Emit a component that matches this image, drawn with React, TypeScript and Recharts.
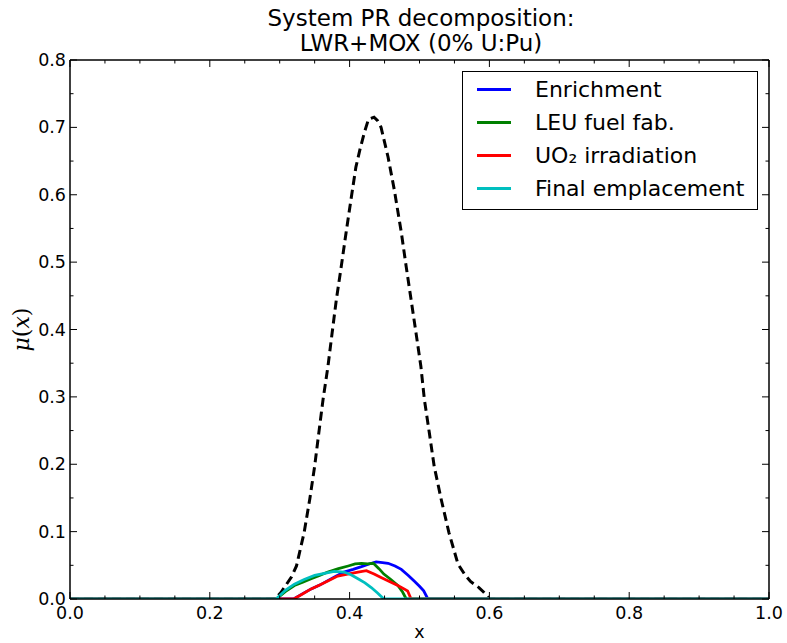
import { Legend, Line, LineChart, XAxis, YAxis } from "recharts";

// total (dashed black)
const totalX = [0, 0.293, 0.302, 0.317, 0.324, 0.335, 0.343, 0.35, 0.356, 0.362, 0.369, 0.375, 0.381, 0.388, 0.395, 0.402, 0.409, 0.415, 0.421, 0.427, 0.435, 0.44, 0.445, 0.455, 0.464, 0.474, 0.481, 0.488, 0.495, 0.502, 0.507, 0.514, 0.521, 0.531, 0.542, 0.555, 0.565, 0.573, 0.585, 0.592, 0.6, 1];
const totalY = [0, 0, 0.01, 0.033, 0.049, 0.099, 0.148, 0.197, 0.247, 0.296, 0.345, 0.395, 0.444, 0.493, 0.544, 0.593, 0.641, 0.668, 0.692, 0.712, 0.715, 0.71, 0.7, 0.656, 0.607, 0.544, 0.493, 0.444, 0.395, 0.345, 0.296, 0.247, 0.197, 0.148, 0.099, 0.052, 0.036, 0.026, 0.017, 0.01, 0, 0];

const enrichX = [0, 0.32, 0.333, 0.345, 0.358, 0.37, 0.381, 0.392, 0.405, 0.417, 0.428, 0.438, 0.447, 0.455, 0.465, 0.474, 0.484, 0.492, 0.5, 0.506, 0.512, 1];
const enrichY = [0, 0, 0.008, 0.015, 0.021, 0.028, 0.034, 0.04, 0.044, 0.048, 0.052, 0.055, 0.054, 0.053, 0.049, 0.044, 0.035, 0.027, 0.019, 0.012, 0, 0];

const leuX = [0, 0.295, 0.308, 0.321, 0.333, 0.345, 0.357, 0.369, 0.384, 0.398, 0.408, 0.417, 0.426, 0.434, 0.442, 0.449, 0.459, 0.469, 0.476, 0.481, 1];
const leuY = [0, 0, 0.011, 0.02, 0.025, 0.03, 0.035, 0.04, 0.045, 0.049, 0.052, 0.053, 0.052, 0.053, 0.045, 0.037, 0.029, 0.02, 0.01, 0, 0];

const uo2X = [0, 0.32, 0.332, 0.345, 0.358, 0.371, 0.383, 0.397, 0.412, 0.424, 0.435, 0.445, 0.457, 0.469, 0.478, 0.483, 0.488, 1];
const uo2Y = [0, 0, 0.007, 0.015, 0.021, 0.028, 0.034, 0.037, 0.04, 0.042, 0.037, 0.032, 0.026, 0.02, 0.015, 0.012, 0, 0];

const finalX = [0, 0.295, 0.308, 0.321, 0.335, 0.35, 0.364, 0.378, 0.392, 0.402, 0.412, 0.422, 0.431, 0.44, 0.449, 1];
const finalY = [0, 0, 0.013, 0.022, 0.029, 0.035, 0.038, 0.041, 0.04, 0.036, 0.03, 0.024, 0.017, 0.009, 0, 0];

const names = ["Enrichment", "LEU fuel fab.", "UO₂ irradiation", "Final emplacement"];
const colors = ["#0000ff", "#008000", "#ff0000", "#00bfbf"];

const xTicks = [0, 0.05, 0.1, 0.15, 0.2, 0.25, 0.3, 0.35, 0.4, 0.45, 0.5, 0.55, 0.6, 0.65, 0.7, 0.75, 0.8, 0.85, 0.9, 0.95, 1];
const yTicks = [0, 0.05, 0.1, 0.15, 0.2, 0.25, 0.3, 0.35, 0.4, 0.45, 0.5, 0.55, 0.6, 0.65, 0.7, 0.75, 0.8];

const zip = (xs: number[], ys: number[]) => xs.map((x, i) => ({ x, y: ys[i] }));
const series = [
  zip(enrichX, enrichY),
  zip(leuX, leuY),
  zip(uo2X, uo2Y),
  zip(finalX, finalY),
];
const total = zip(totalX, totalY);

const font = "DejaVu Sans, Liberation Sans, sans-serif";
const isMult = (v: number, step: number) => Math.abs(v / step - Math.round(v / step)) < 1e-6;

function XTick({ x, y, payload, top }: any) {
  const v = payload.value;
  const major = isMult(v, 0.2);
  const len = major ? 7 : 3.5;
  return (
    <g>
      <line x1={x} x2={x} y1={y} y2={top ? y + len : y - len} stroke="#000" strokeWidth={1} />
      {!top && major && (
        <text x={x} y={y + 20} textAnchor="middle" fontFamily={font} fontSize={17.5} fill="#000">
          {v.toFixed(1)}
        </text>
      )}
    </g>
  );
}

function YTick({ x, y, payload, right }: any) {
  const v = payload.value;
  const major = isMult(v, 0.1);
  const len = major ? 7 : 3.5;
  return (
    <g>
      <line x1={x} x2={right ? x - len : x + len} y1={y} y2={y} stroke="#000" strokeWidth={1} />
      {!right && major && (
        <text x={x - 4} y={y + 6} textAnchor="end" fontFamily={font} fontSize={17.5} fill="#000">
          {v.toFixed(1)}
        </text>
      )}
    </g>
  );
}

function LegendBox() {
  return (
    <div
      style={{
        boxSizing: "border-box",
        width: 296,
        height: 139,
        border: "1.5px solid #000",
        background: "#fff",
        paddingTop: 1,
        fontFamily: font,
        fontSize: 22,
      }}
    >
      {names.map((n, i) => (
        <div key={n} style={{ display: "flex", alignItems: "center", height: 33 }}>
          <div style={{ marginLeft: 14, width: 34, height: 3, background: colors[i] }} />
          <span style={{ marginLeft: 24, whiteSpace: "nowrap" }}>{n}</span>
        </div>
      ))}
    </div>
  );
}

export default function App() {
  return (
    <div style={{ position: "absolute", left: 0, top: 0, width: 787, height: 643, background: "#fff" }}>
      <div
        style={{
          position: "absolute",
          left: 72,
          top: 6,
          width: 698,
          textAlign: "center",
          fontFamily: font,
          fontSize: 23,
          lineHeight: "25px",
          color: "#000",
        }}
      >
        System PR decomposition:
        <br />
        LWR+MOX (0% U:Pu)
      </div>
      <LineChart width={787} height={643} margin={{ top: 60, right: 18, left: 0, bottom: 0 }}>
        <XAxis
          dataKey="x"
          type="number"
          domain={[0, 1]}
          ticks={xTicks}
          interval={0}
          tickSize={0}
          tickMargin={0}
          height={44}
          tick={<XTick />}
          tickLine={false}
          axisLine={{ stroke: "#000", strokeWidth: 1.5 }}
          allowDataOverflow
          label={{ value: "x", position: "insideBottom", offset: 5, fontFamily: font, fontSize: 17.5, fill: "#000" }}
        />
        <XAxis
          xAxisId="top"
          orientation="top"
          dataKey="x"
          type="number"
          domain={[0, 1]}
          ticks={xTicks}
          interval={0}
          tickSize={0}
          tickMargin={0}
          height={1}
          mirror
          tick={<XTick top />}
          tickLine={false}
          axisLine={{ stroke: "#000", strokeWidth: 1.5 }}
          allowDataOverflow
        />
        <YAxis
          type="number"
          domain={[0, 0.8]}
          ticks={yTicks}
          interval={0}
          tickSize={0}
          tickMargin={0}
          width={70}
          tick={<YTick />}
          tickLine={false}
          axisLine={{ stroke: "#000", strokeWidth: 1.5 }}
          allowDataOverflow
          label={{
            content: ({ viewBox }: any) => {
              const cy = viewBox.y + viewBox.height / 2;
              return (
                <text
                  x={21}
                  y={cy}
                  transform={`rotate(-90, 21, ${cy})`}
                  textAnchor="middle"
                  dominantBaseline="central"
                  fontFamily="DejaVu Serif, serif"
                  fontSize={22}
                  fill="#000"
                >
                  <tspan fontStyle="italic">μ</tspan>
                  <tspan>(</tspan>
                  <tspan fontStyle="italic">x</tspan>
                  <tspan>)</tspan>
                </text>
              );
            },
          }}
        />
        <YAxis
          yAxisId="right"
          orientation="right"
          type="number"
          domain={[0, 0.8]}
          ticks={yTicks}
          interval={0}
          tickSize={0}
          tickMargin={0}
          width={1}
          mirror
          tick={<YTick right />}
          tickLine={false}
          axisLine={{ stroke: "#000", strokeWidth: 1.5 }}
          allowDataOverflow
        />
        <Legend
          layout="vertical"
          align="center"
          verticalAlign="middle"
          content={<LegendBox />}
          wrapperStyle={{ left: 462, top: 71, width: 296, height: 139, bottom: "auto", right: "auto" }}
        />
        <Line
          data={total}
          dataKey="y"
          name="total"
          xAxisId="top"
          yAxisId="right"
          legendType="none"
          type="linear"
          stroke="#000"
          strokeWidth={3}
          strokeDasharray="9 5"
          dot={false}
          isAnimationActive={false}
        />
        {series.map((d, i) => (
          <Line
            key={names[i]}
            data={d}
            dataKey="y"
            name={names[i]}
            type="linear"
            stroke={colors[i]}
            strokeWidth={2.8}
            dot={false}
            isAnimationActive={false}
          />
        ))}
      </LineChart>
    </div>
  );
}
